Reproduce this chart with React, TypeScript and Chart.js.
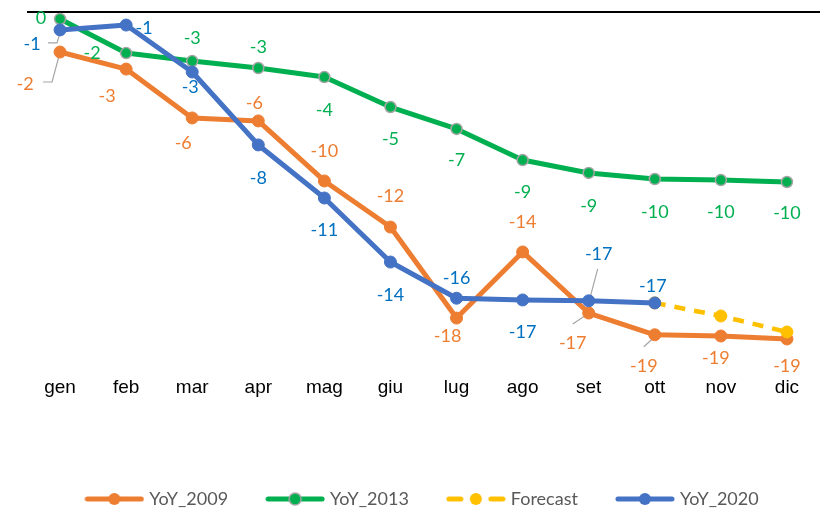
import React, { useEffect, useRef } from "react";
import { Chart, registerables } from "chart.js";

Chart.register(...registerables);

// ---------- data ----------
const categories = ["gen", "feb", "mar", "apr", "mag", "giu", "lug", "ago", "set", "ott", "nov", "dic"];
const yoy2009: (number | null)[] = [-2.3, -3.28, -6.09, -6.26, -9.71, -12.36, -17.59, -13.79, -17.3, -18.55, -18.62, -18.79];
const yoy2013: (number | null)[] = [-0.4, -2.36, -2.82, -3.22, -3.74, -5.46, -6.72, -8.51, -9.25, -9.6, -9.66, -9.77];
const forecastValues: (number | null)[] = [null, null, null, null, null, null, null, null, null, -16.72, -17.47, -18.39];
const yoy2020: (number | null)[] = [-1.03, -0.75, -3.45, -7.64, -10.69, -14.37, -16.45, -16.55, -16.6, -16.72, null, null];
const seriesNames = ["YoY_2009", "YoY_2013", "Forecast", "YoY_2020"];
const yAxisMin = -20;
const yAxisMax = 0;

// ---------- styling ----------
const ORANGE = "#ED7D31";
const GREEN = "#00B050";
const YELLOW = "#FFC000";
const BLUE = "#4472C4";
const LABEL_COLORS: Record<string, string> = {
  YoY_2009: "#ED7D31",
  YoY_2013: "#00B050",
  YoY_2020: "#0070C0",
};
type Off = [number, number];
// label offsets (px) relative to each point
const labelOffsets: Record<string, (Off | null)[]> = {
  YoY_2009: [[-35, 32], [-19, 27], [-9, 25], [-4, -18], [0, -30], [0, -31], [-9, 18], [0, -30], [-16, 30], [-11, 31], [-5, 22], [0, 27]],
  YoY_2013: [[-19, -1], [-34, 0], [0, -23], [0, -21], [0, 33], [0, 32], [0, 31], [0, 32], [0, 33], [0, 33], [0, 32], [0, 31]],
  YoY_2020: [[-28, 14], [18, 3], [-2, 15], [0, 33], [0, 32], [0, 33], [0, -20], [0, 32], [10, -47], [-2, -17], null, null],
};
// leader lines (px) relative to each point
const leaderLines: Record<string, Record<number, Off[]>> = {
  YoY_2009: { 0: [[-17, 30], [-8, 30], [-1, 4]], 8: [[-16, 11], [-1, 1]], 9: [[-11, 12], [0, 2]] },
  YoY_2020: { 0: [[-12, 13], [-3, 13], [0, 3]], 8: [[9, -32], [1, -2]] },
};

const LABEL_FONT = "18px Lato";

const pointLabelPlugin = {
  id: "pointLabelPlugin",
  beforeDatasetsDraw(chart: any) {
    const ctx = chart.ctx as CanvasRenderingContext2D;
    const area = chart.chartArea;
    const y0 = chart.scales.y.getPixelForValue(0);
    ctx.save();
    ctx.strokeStyle = "#000000";
    ctx.lineWidth = 2;
    ctx.beginPath();
    ctx.moveTo(area.left, y0);
    ctx.lineTo(area.right, y0);
    ctx.stroke();

    ctx.strokeStyle = "#A6A6A6";
    ctx.lineWidth = 1.2;
    chart.data.datasets.forEach((ds: any, di: number) => {
      const lead = leaderLines[ds.label];
      if (!lead) return;
      const meta = chart.getDatasetMeta(di);
      Object.keys(lead).forEach((k) => {
        const i = Number(k);
        const pt = meta.data[i];
        if (!pt) return;
        ctx.beginPath();
        lead[i].forEach(([dx, dy], j) => {
          if (j === 0) ctx.moveTo(pt.x + dx, pt.y + dy);
          else ctx.lineTo(pt.x + dx, pt.y + dy);
        });
        ctx.stroke();
      });
    });
    ctx.restore();
  },
  afterDatasetsDraw(chart: any) {
    const ctx = chart.ctx as CanvasRenderingContext2D;
    ctx.save();
    ctx.font = LABEL_FONT;
    ctx.textAlign = "center";
    ctx.textBaseline = "middle";
    chart.data.datasets.forEach((ds: any, di: number) => {
      const offs = labelOffsets[ds.label];
      if (!offs) return;
      const meta = chart.getDatasetMeta(di);
      ctx.fillStyle = LABEL_COLORS[ds.label];
      ds.data.forEach((v: number | null, i: number) => {
        if (v === null || v === undefined) return;
        const off = offs[i];
        if (!off) return;
        const pt = meta.data[i];
        const txt = String(Math.round(v) === 0 ? 0 : Math.round(v));
        ctx.fillText(txt, pt.x + off[0], pt.y + off[1]);
      });
    });
    ctx.restore();
  },
};

function makeLegendIcon(color: string, dashed: boolean, ringColor: string | null): HTMLCanvasElement {
  const c = document.createElement("canvas");
  c.width = 60;
  c.height = 16;
  const ctx = c.getContext("2d")!;
  ctx.strokeStyle = color;
  ctx.lineWidth = 5;
  ctx.lineCap = "round";
  ctx.beginPath();
  if (dashed) {
    ctx.moveTo(3, 8);
    ctx.lineTo(15, 8);
    ctx.moveTo(45, 8);
    ctx.lineTo(57, 8);
  } else {
    ctx.moveTo(3, 8);
    ctx.lineTo(57, 8);
  }
  ctx.stroke();
  ctx.beginPath();
  ctx.arc(30, 8, 6, 0, Math.PI * 2);
  ctx.fillStyle = color;
  ctx.fill();
  if (ringColor) {
    ctx.strokeStyle = ringColor;
    ctx.lineWidth = 1.5;
    ctx.stroke();
  }
  return c;
}

export default function App() {
  const canvasRef = useRef<HTMLCanvasElement | null>(null);

  useEffect(() => {
    document.body.style.margin = "0";
    const canvas = canvasRef.current;
    if (!canvas) return;

    const icons = [
      makeLegendIcon(ORANGE, false, null),
      makeLegendIcon(GREEN, false, "#A5A5A5"),
      makeLegendIcon(YELLOW, true, null),
      makeLegendIcon(BLUE, false, null),
    ];

    const common = {
      borderWidth: 5,
      tension: 0,
      borderJoinStyle: "round" as const,
      borderCapStyle: "round" as const,
      pointRadius: 6,
      pointBorderWidth: 1,
      clip: false as const,
      spanGaps: false,
    };

    const chart = new Chart(canvas, {
      type: "line",
      data: {
        labels: categories,
        datasets: [
          {
            ...common,
            label: seriesNames[0],
            data: yoy2009,
            borderColor: ORANGE,
            backgroundColor: ORANGE,
            pointBackgroundColor: ORANGE,
            pointBorderColor: ORANGE,
            order: 4,
          },
          {
            ...common,
            label: seriesNames[1],
            data: yoy2013,
            borderColor: GREEN,
            backgroundColor: GREEN,
            pointBackgroundColor: GREEN,
            pointBorderColor: "#A5A5A5",
            pointBorderWidth: 1.5,
            pointRadius: 5.5,
            order: 3,
          },
          {
            ...common,
            label: seriesNames[2],
            data: forecastValues,
            borderColor: YELLOW,
            backgroundColor: YELLOW,
            pointBackgroundColor: YELLOW,
            pointBorderColor: YELLOW,
            borderWidth: 4.5,
            borderDash: [11, 9],
            borderCapStyle: "butt" as const,
            order: 2,
          },
          {
            ...common,
            label: seriesNames[3],
            data: yoy2020,
            borderColor: BLUE,
            backgroundColor: BLUE,
            pointBackgroundColor: BLUE,
            pointBorderColor: BLUE,
            order: 1,
          },
        ],
      },
      options: {
        responsive: false,
        animation: false,
        events: [],
        layout: { autoPadding: false, padding: { left: 27, right: 1, top: 12, bottom: -7 } },
        scales: {
          x: {
            type: "category",
            offset: true,
            grid: { display: false, drawTicks: false },
            border: { display: false },
            ticks: {
              color: "#000000",
              padding: 16,
              font: { family: "'Liberation Sans', Arial, sans-serif", size: 19 },
              maxRotation: 0,
              autoSkip: false,
            },
            afterFit: (scale: any) => {
              scale.height = 89;
              scale.paddingLeft = 0;
              scale.paddingRight = 0;
            },
          },
          y: {
            display: false,
            min: yAxisMin,
            max: yAxisMax,
          },
        },
        plugins: {
          tooltip: { enabled: false },
          legend: {
            display: true,
            position: "bottom",
            labels: {
              usePointStyle: true,
              pointStyleWidth: 52,
              padding: 41,
              color: "#595959",
              font: { family: "Lato", size: 18 },
              sort: (a: any, b: any) => a.datasetIndex - b.datasetIndex,
              generateLabels: (ch: any) => {
                const items = (Chart.defaults.plugins.legend.labels as any).generateLabels(ch);
                return items.map((it: any) => ({ ...it, pointStyle: icons[it.datasetIndex] }));
              },
            },
          },
        },
      },
      plugins: [pointLabelPlugin],
    } as any);

    return () => {
      chart.destroy();
    };
  }, []);

  return (
    <div style={{ width: 821, height: 511, position: "relative", background: "#ffffff" }}>
      <canvas ref={canvasRef} width={821} height={511} style={{ display: "block" }} />
    </div>
  );
}
